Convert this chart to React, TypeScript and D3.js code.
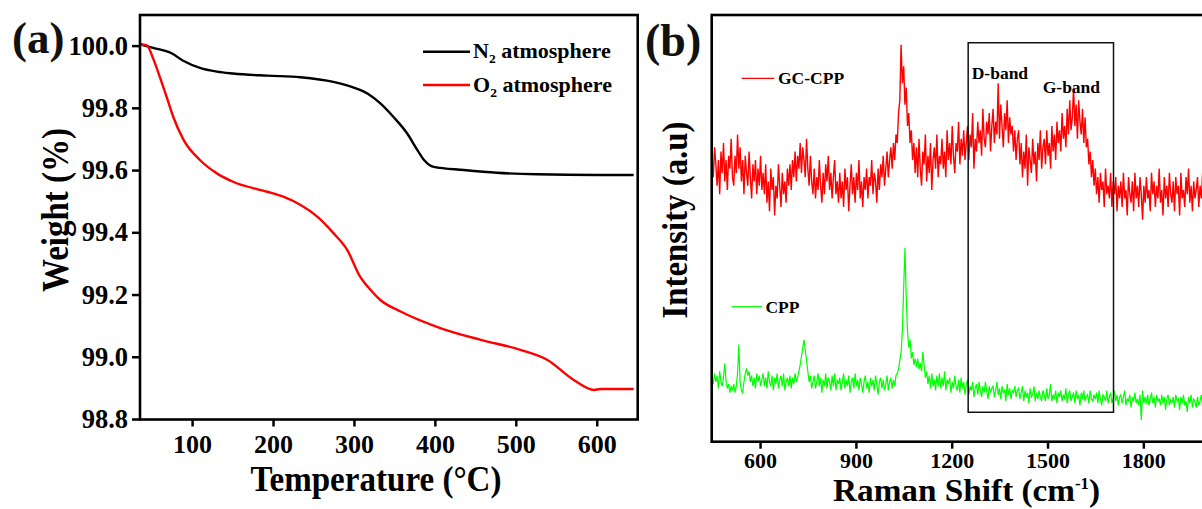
import React from "react";
import * as d3 from "d3";

// ---------- Panel (a): TGA ----------
const n2Temp = [35, 50, 74, 89, 109, 130, 150, 192, 233, 274, 300, 316, 332, 348, 365, 378, 386, 398, 435, 476, 525, 600, 645];
const n2Weight = [100.006, 99.995, 99.977, 99.952, 99.93, 99.918, 99.912, 99.905, 99.9, 99.885, 99.866, 99.848, 99.816, 99.773, 99.72, 99.665, 99.634, 99.612, 99.602, 99.593, 99.588, 99.586, 99.586];

const o2Temp = [35, 43, 52, 60, 68, 76, 89, 109, 130, 150, 192, 212, 233, 254, 274, 291, 307, 320, 332, 357, 406, 456, 505, 538, 571, 596, 604, 645];
const o2Weight = [100.006, 100.003, 99.955, 99.897, 99.836, 99.773, 99.698, 99.634, 99.591, 99.564, 99.532, 99.516, 99.49, 99.452, 99.399, 99.345, 99.259, 99.216, 99.184, 99.147, 99.094, 99.056, 99.024, 98.992, 98.927, 98.895, 98.898, 98.898];

const tgaYTicks = [98.8, 99.0, 99.2, 99.4, 99.6, 99.8, 100.0];
const tgaXTicks = [100, 200, 300, 400, 500, 600];

// ---------- Panel (b): Raman ----------
const ramanShift = d3.range(448, 2001, 4); // sampling grid, cm^-1
const gcCppIntensity = [
  67, 62, 69, 65, 60, 66, 58, 68, 63, 70, 61, 66, 59, 67, 64, 71, 62, 60, 67, 63,
  72, 64, 69, 61, 66, 58, 67, 63, 60, 68, 62, 57, 65, 61, 66, 58, 64, 60, 67, 59,
  63, 58, 65, 56, 61, 54, 64, 59, 62, 53, 60, 57, 65, 60, 55, 63, 58, 61, 56, 64,
  60, 65, 59, 66, 62, 68, 61, 67, 64, 70, 63, 69, 66, 62, 71, 64, 60, 67, 61, 58,
  64, 57, 62, 59, 66, 60, 56, 63, 58, 65, 61, 67, 59, 63, 57, 62, 66, 58, 61, 56,
  63, 57, 61, 55, 64, 59, 62, 54, 60, 65, 58, 62, 56, 63, 59, 66, 57, 61, 55, 62,
  59, 64, 57, 62, 60, 66, 58, 63, 61, 56, 64, 59, 65, 62, 67, 60, 64, 68, 62, 66,
  69, 64, 70, 66, 72, 70, 77, 80, 93, 84, 88, 79, 83, 74, 77, 70, 73, 66, 70, 63,
  69, 62, 71, 64, 60, 68, 65, 72, 61, 67, 63, 70, 59, 66, 69, 64, 72, 62, 67, 65,
  71, 64, 68, 62, 73, 66, 70, 65, 74, 67, 63, 70, 68, 75, 65, 71, 67, 73, 66, 70,
  74, 66, 72, 69, 77, 64, 71, 68, 75, 70, 73, 67, 78, 71, 69, 75, 72, 77, 68, 74,
  78, 70, 75, 72, 84, 71, 79, 74, 69, 77, 73, 80, 70, 76, 72, 74, 68, 73, 66, 71,
  73, 65, 70, 62, 68, 64, 72, 60, 69, 66, 63, 71, 65, 68, 61, 70, 66, 73, 64, 69,
  71, 65, 73, 67, 70, 64, 74, 68, 72, 66, 75, 70, 73, 68, 77, 71, 74, 69, 78, 72,
  80, 73, 76, 83, 74, 79, 71, 80, 75, 72, 78, 70, 76, 69, 71, 65, 68, 62, 66, 60,
  64, 58, 62, 56, 63, 59, 61, 55, 64, 58, 60, 57, 63, 55, 61, 58, 62, 54, 60, 57,
  61, 55, 63, 57, 59, 53, 62, 58, 56, 61, 54, 63, 57, 60, 55, 62, 58, 52, 60, 56,
  62, 57, 59, 54, 63, 58, 61, 55, 60, 57, 64, 56, 59, 53, 62, 57, 60, 55, 63, 58,
  56, 61, 54, 62, 58, 60, 53, 63, 57, 59, 55, 62, 58, 64, 56, 60, 54, 61, 57, 59,
  62, 55, 60, 57, 63, 54, 61, 58, 60,
];
const cppIntensity = [
  15, 13.5, 16, 14, 15.5, 12.5, 16.5, 14, 13, 15, 18.4, 14, 12.5, 13.5, 11.5, 13, 12, 13.5, 11.5, 13,
  16, 22.8, 14, 12, 11.5, 14, 16, 17.2, 15.5, 16.5, 14, 15.5, 13, 15, 12.5, 16, 14, 15.5, 13, 14.5,
  16, 13, 15, 12.5, 16.5, 14, 13, 15.5, 12, 15, 13.5, 16, 12.5, 14.5, 15.5, 13, 16, 12, 14, 15,
  13, 15.5, 12.5, 15, 13.5, 16, 14, 15, 16.5, 18, 20, 22, 23.9, 21.5, 19, 16.5, 14, 15.5, 12.5, 14,
  15.5, 12.5, 14, 16, 13, 15, 11.5, 14.5, 13, 16, 12.5, 15, 14, 12, 15.5, 13, 16, 12, 14.5, 13.5,
  15, 12, 14, 16, 12.5, 14.5, 13, 15.5, 11.5, 14, 15, 12.5, 16, 13, 14.5, 12, 15, 13.5, 11.5, 14,
  15.5, 12.5, 14, 11.5, 15, 13, 14.5, 12, 15.5, 13.5, 11, 14, 15, 12.5, 14.5, 12, 13.5, 15.5, 12, 14,
  15, 12.5, 14.5, 13, 15.5, 16, 17, 19, 21, 26, 36, 45.4, 34, 26, 22, 24, 19.5, 21, 18, 19.5,
  17.5, 19.5, 17, 18.5, 16.5, 21.1, 18, 15, 16.5, 13.5, 15.5, 12.5, 16, 13, 14.5, 12, 15.5, 13, 16, 12.5,
  15, 13, 16.5, 12, 14.5, 13.5, 15, 11.5, 14, 12.5, 15.5, 13, 12, 14.5, 11.5, 15, 12.5, 14, 11, 13.5,
  14.5, 11, 13, 12, 14, 10.5, 12.5, 13.5, 11, 14, 12, 10.5, 13, 11.5, 14, 12, 10, 13, 11.5, 12.5,
  13, 10.5, 12, 14, 11, 12.5, 10, 13, 11.5, 12, 9.5, 13.5, 11, 12.5, 10, 12, 11.5, 13, 10.5, 12,
  12.5, 10, 11.5, 13, 9.5, 12, 10.5, 11.5, 9, 12.5, 10.5, 11, 13, 9.5, 11.5, 10, 12, 10.5, 9.5, 12,
  11, 9.5, 12.5, 10, 11, 13.5, 9.5, 11, 10, 12, 9, 11.5, 10.5, 12, 9.5, 11, 10, 12.5, 9, 11,
  12, 9.5, 10.5, 11.5, 9, 12, 10, 11, 8.5, 11.5, 10, 12, 9.5, 10.5, 11, 9, 12, 10, 9.5, 11,
  10, 11.5, 9, 12, 10, 8.5, 11, 10.5, 9.5, 12, 9, 10.5, 11.5, 9, 10, 12, 9.5, 11, 8.5, 10.5,
  11, 9, 10.5, 12, 8.5, 10, 9.5, 11, 8, 10.5, 9.5, 11.5, 9, 10, 8.5, 11, 5.1, 12, 9, 10.5,
  9, 11, 8.5, 10, 11.5, 9, 10.5, 8, 11, 9.5, 10, 8.5, 11, 9, 10.5, 7.5, 10, 11, 8.5, 10,
  9, 10.5, 8, 11, 9.5, 10, 7.5, 10.5, 9, 11, 8.5, 9.5, 7, 10.5, 9, 11, 8, 10, 9.5, 8,
  10.5, 8.5, 9.5, 11, 8, 10, 7.5, 10, 9,
];
const ramanXTicks = [600, 900, 1200, 1500, 1800];
const bandBox = { x0: 1250, x1: 1705, y0: 6.9, y1: 93.5 };

const FONT = "'Liberation Serif', 'Times New Roman', serif";

export default function App() {
  // scales panel a
  const xA = d3.scaleLinear().domain([35, 650]).range([140, 637.7]);
  const yA = d3.scaleLinear().domain([98.8, 100.1]).range([419.5, 15]);
  const lineA = (t: number[], w: number[]) =>
    d3
      .line<number>()
      .x((_, i) => xA(t[i]))
      .y((_, i) => yA(w[i]))
      .curve(d3.curveMonotoneX)(t) as string;

  // scales panel b
  const xB = d3.scaleLinear().domain([447, 2100]).range([711.7, 711.7 + 1653 * 0.3194]);
  const yB = d3.scaleLinear().domain([0, 100]).range([441.7, 15]);
  const lineB = (v: number[]) =>
    d3
      .line<number>()
      .x((_, i) => xB(ramanShift[i]))
      .y((d) => yB(d))(v) as string;

  const [ax0, ax1] = xA.range();
  const [ay0, ay1] = yA.range();
  const bx0 = xB.range()[0];
  const bx1 = xB.range()[1];
  const [by0, by1] = yB.range();

  return (
    <svg
      width={1202}
      height={509}
      style={{ position: "absolute", left: 0, top: 0, background: "#fff" }}
      fontFamily={FONT}
      fontWeight="bold"
    >
      {/* ---------------- Panel (a) ---------------- */}
      <text x={12} y={53} fontSize={45} fill="#111">(a)</text>

      <path d={lineA(n2Temp, n2Weight)} fill="none" stroke="#000" strokeWidth={2.4} />
      <path d={lineA(o2Temp, o2Weight)} fill="none" stroke="#ff0000" strokeWidth={2.4} />

      <rect x={ax0} y={ay1} width={ax1 - ax0} height={ay0 - ay1} fill="none" stroke="#000" strokeWidth={2.6} />

      {tgaYTicks.map((t) => (
        <g key={"ya" + t}>
          <line x1={ax0 - 8} x2={ax0} y1={yA(t)} y2={yA(t)} stroke="#000" strokeWidth={2.5} />
          <text x={128} y={yA(t) + 8.5} fontSize={26.5} textAnchor="end">{t.toFixed(1)}</text>
        </g>
      ))}
      {tgaXTicks.map((t) => (
        <g key={"xa" + t}>
          <line x1={xA(t)} x2={xA(t)} y1={ay0} y2={ay0 + 7} stroke="#000" strokeWidth={2.5} />
          <text x={xA(t)} y={452.5} fontSize={26} textAnchor="middle">{t}</text>
        </g>
      ))}

      {/* legend a */}
      <line x1={423} x2={470} y1={51.7} y2={51.7} stroke="#000" strokeWidth={2.4} />
      <text x={473} y={58.3} fontSize={22}>
        N<tspan fontSize={13.5} dy={5}>2</tspan>
        <tspan dy={-5}> atmosphere</tspan>
      </text>
      <line x1={423} x2={470} y1={85} y2={85} stroke="#ff0000" strokeWidth={2.4} />
      <text x={473} y={91.7} fontSize={22}>
        O<tspan fontSize={13.5} dy={5}>2</tspan>
        <tspan dy={-5}> atmosphere</tspan>
      </text>

      {/* axis titles a */}
      <text x={376} y={491} fontSize={36} textAnchor="middle" textLength={251} lengthAdjust="spacingAndGlyphs">
        Temperature (°C)
      </text>
      <text
        transform="translate(68,210) rotate(-90)"
        fontSize={37}
        textAnchor="middle"
        textLength={164}
        lengthAdjust="spacingAndGlyphs"
      >
        Weight (%)
      </text>

      {/* ---------------- Panel (b) ---------------- */}
      <text x={645} y={56} fontSize={46} fill="#111">(b)</text>

      <path d={lineB(gcCppIntensity)} fill="none" stroke="#ff0000" strokeWidth={1.4} />
      <path d={lineB(cppIntensity)} fill="none" stroke="#00ff00" strokeWidth={1.2} />

      <rect
        x={xB(bandBox.x0)}
        y={yB(bandBox.y1)}
        width={xB(bandBox.x1) - xB(bandBox.x0)}
        height={yB(bandBox.y0) - yB(bandBox.y1)}
        fill="none"
        stroke="#111"
        strokeWidth={1.5}
      />

      <rect x={bx0} y={by1} width={bx1 - bx0} height={by0 - by1} fill="none" stroke="#000" strokeWidth={2.6} />

      {ramanXTicks.map((t) => (
        <g key={"xb" + t}>
          <line x1={xB(t)} x2={xB(t)} y1={by0} y2={by0 + 7} stroke="#000" strokeWidth={2.5} />
          <text x={xB(t)} y={467.5} fontSize={22} textAnchor="middle">{t}</text>
        </g>
      ))}

      {/* legend b */}
      <line x1={741.7} x2={774.3} y1={78.3} y2={78.3} stroke="#ff0000" strokeWidth={1.2} />
      <text x={778} y={83.5} fontSize={17.5}>GC-CPP</text>
      <line x1={731.4} x2={762} y1={306.7} y2={306.7} stroke="#00ff00" strokeWidth={1.2} />
      <text x={765.4} y={312.5} fontSize={17.5}>CPP</text>

      <text x={971.7} y={79.3} fontSize={17.5}>D-band</text>
      <text x={1042.7} y={93.3} fontSize={17.5}>G-band</text>

      {/* axis titles b */}
      <text x={966.5} y={501} fontSize={32} textAnchor="middle" textLength={267} lengthAdjust="spacingAndGlyphs">
        Raman Shift (cm<tspan fontSize={16} dy={-12}>-1</tspan><tspan dy={12}>)</tspan>
      </text>
      <text
        transform="translate(687,220) rotate(-90)"
        fontSize={35}
        textAnchor="middle"
        textLength={197}
        lengthAdjust="spacingAndGlyphs"
      >
        Intensity (a.u)
      </text>
    </svg>
  );
}
